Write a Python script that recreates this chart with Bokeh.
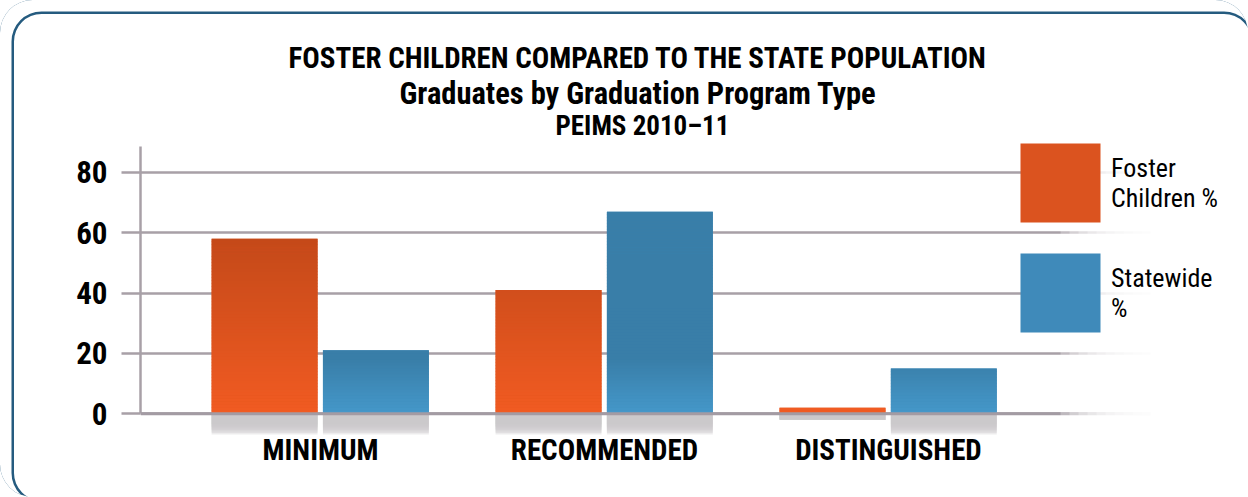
from bokeh.plotting import figure
from bokeh.models import (Range1d, FixedTicker, Span, BoxAnnotation, Legend,
                          LegendItem, Title, ColumnDataSource)
from bokeh.embed import file_html
from bokeh.resources import INLINE

# ---------------- data ----------------
categories = ["MINIMUM", "RECOMMENDED", "DISTINGUISHED"]
foster_pct = [58, 41, 2]
statewide_pct = [21, 67, 15]
y_ticks = [0, 20, 40, 60, 80]
series_names = ["Foster\nChildren %", "Statewide\n%"]
title_lines = ["FOSTER CHILDREN COMPARED TO THE STATE POPULATION",
               "Graduates by Graduation Program Type",
               "PEIMS 2010\u201311"]

# ---------------- styles ----------------
FONT = "Roboto Condensed"
BAR_W = 0.373
OFFSETS = (-0.197, 0.195)
GRID_C = "#A8A0A7"
ORANGE_LO, ORANGE_HI, ORANGE_SPAN = (241, 91, 34), (196, 73, 25), 58.0
BLUE_LO, BLUE_HI, BLUE_SPAN = (69, 152, 202), (57, 126, 168), 18.0


def lerp_hex(c0, c1, t):
    t = max(0.0, min(1.0, t))
    return "#%02x%02x%02x" % tuple(int(round(a + (b - a) * t)) for a, b in zip(c0, c1))


p = figure(width=1248, height=497,
           x_range=Range1d(-0.634, 3.268), y_range=Range1d(-7.9, 89.6),
           output_backend="svg", toolbar_location=None,
           min_border_left=140, min_border_right=0,
           min_border_top=143, min_border_bottom=60,
           background_fill_alpha=0, border_fill_alpha=0,
           outline_line_color=None)
p.styles = {
    "border-radius": "32.75px",
    "box-shadow": "inset 8.75px 8.75px 0 2.75px #ffffff, "
                  "inset 8.75px 8.75px 0 5.25px #255B7F",
}

# titles: the ones added first sit nearest to the frame
p.title.text = title_lines[0]
t3 = Title(text=title_lines[2])
t2 = Title(text=title_lines[1])
# (title, font size, left offset from the frame, standoff)
for t, fs, off, so in ((p.title, "29px", 148, 7), (t2, "30.5px", 259, -9),
                       (t3, "27px", 415, 3)):
    t.align = "left"
    t.offset = off
    t.text_font = FONT
    t.text_font_style = "bold"
    t.text_font_size = fs
    t.text_color = "black"
    try:
        t.standoff = so
    except Exception:
        t.standoff = 0
p.add_layout(t3, "above")
p.add_layout(t2, "above")

# grid
p.xgrid.grid_line_color = None
p.ygrid.grid_line_color = GRID_C
p.ygrid.grid_line_width = 2.5

# base bars (legend colour)
series = [foster_pct, statewide_pct]
base_colors = ["#DB531F", "#3F8ABA"]
base_renderers = []
for si, vals in enumerate(series):
    src = ColumnDataSource(dict(x=[i + OFFSETS[si] for i in range(len(categories))],
                                top=vals))
    r = p.vbar(x="x", top="top", bottom=0, width=BAR_W, source=src,
               fill_color=base_colors[si], line_color=None)
    base_renderers.append(r)

# gradient slices
sx, sb, st, sc = [], [], [], []
rx, rb, rt = [], [], []
for si, vals in enumerate(series):
    for ci, v in enumerate(vals):
        x = ci + OFFSETS[si]
        k = 0.0
        while k < v:
            mid = k + 0.5
            if si == 0:
                col = lerp_hex(ORANGE_LO, ORANGE_HI, mid / ORANGE_SPAN)
            else:
                col = lerp_hex(BLUE_LO, BLUE_HI, mid / BLUE_SPAN)
            sx.append(x); sb.append(k); st.append(min(k + 1.15, v)); sc.append(col)
            k += 1.0
        # reflection: nested translucent boxes, denser near the base line
        for j in range(8):
            depth = min(v, 3.4 + j * 0.5)
            rx.append(x); rt.append(0); rb.append(-depth)

p.vbar(x="x", bottom="bottom", top="top", width=BAR_W, fill_color="color",
       line_color=None, source=ColumnDataSource(dict(x=sx, bottom=sb, top=st, color=sc)))
p.vbar(x="x", bottom="bottom", top="top", width=BAR_W, fill_color="#C9C6CA",
       fill_alpha=0.34, line_color=None,
       source=ColumnDataSource(dict(x=rx, bottom=rb, top=rt)))

# zero line over bars
p.add_layout(Span(location=0, dimension="width", line_color="#A39BA3", line_width=3))

# fade of the grid lines on the right
for i in range(10):
    left = 2.606 + i * (2.923 - 2.606) / 10
    p.add_layout(BoxAnnotation(left=left, fill_color="white", fill_alpha=0.3,
                               line_color=None))
p.add_layout(BoxAnnotation(left=2.923, fill_color="white", fill_alpha=1.0,
                           line_color=None))

# axes
ya = p.yaxis[0]
ya.ticker = FixedTicker(ticks=y_ticks)
ya.bounds = (0, 88.6)
ya.axis_line_color = GRID_C
ya.axis_line_width = 2.5
ya.major_tick_out = 19
ya.major_tick_in = 0
ya.major_tick_line_color = GRID_C
ya.major_tick_line_width = 2.5
ya.minor_tick_line_color = None
ya.major_label_standoff = 14
ya.major_label_text_font = FONT
ya.major_label_text_font_style = "bold"
ya.major_label_text_font_size = "31px"
ya.major_label_text_color = "black"

xa = p.xaxis[0]
xa.ticker = FixedTicker(ticks=list(range(len(categories))))
xa.major_label_overrides = {i: c for i, c in enumerate(categories)}
xa.axis_line_color = None
xa.major_tick_line_color = None
xa.minor_tick_line_color = None
xa.major_label_standoff = -11
xa.major_label_text_font = FONT
xa.major_label_text_font_style = "bold"
xa.major_label_text_font_size = "29px"
xa.major_label_text_color = "black"

# legend (area legend glyphs are drawn inset by 10 %)
legend = Legend(items=[LegendItem(label=series_names[i], renderers=[base_renderers[i]])
                       for i in range(2)],
                location=(870, 95), orientation="vertical",
                glyph_width=100, glyph_height=99, spacing=11, padding=0, margin=0,
                label_standoff=1, label_text_font=FONT,
                label_text_font_size="26px", label_text_line_height=1.4,
                label_text_color="black", border_line_color=None,
                background_fill_alpha=0)
p.add_layout(legend, "center")

open("out.html", "w").write(file_html(p, INLINE))
